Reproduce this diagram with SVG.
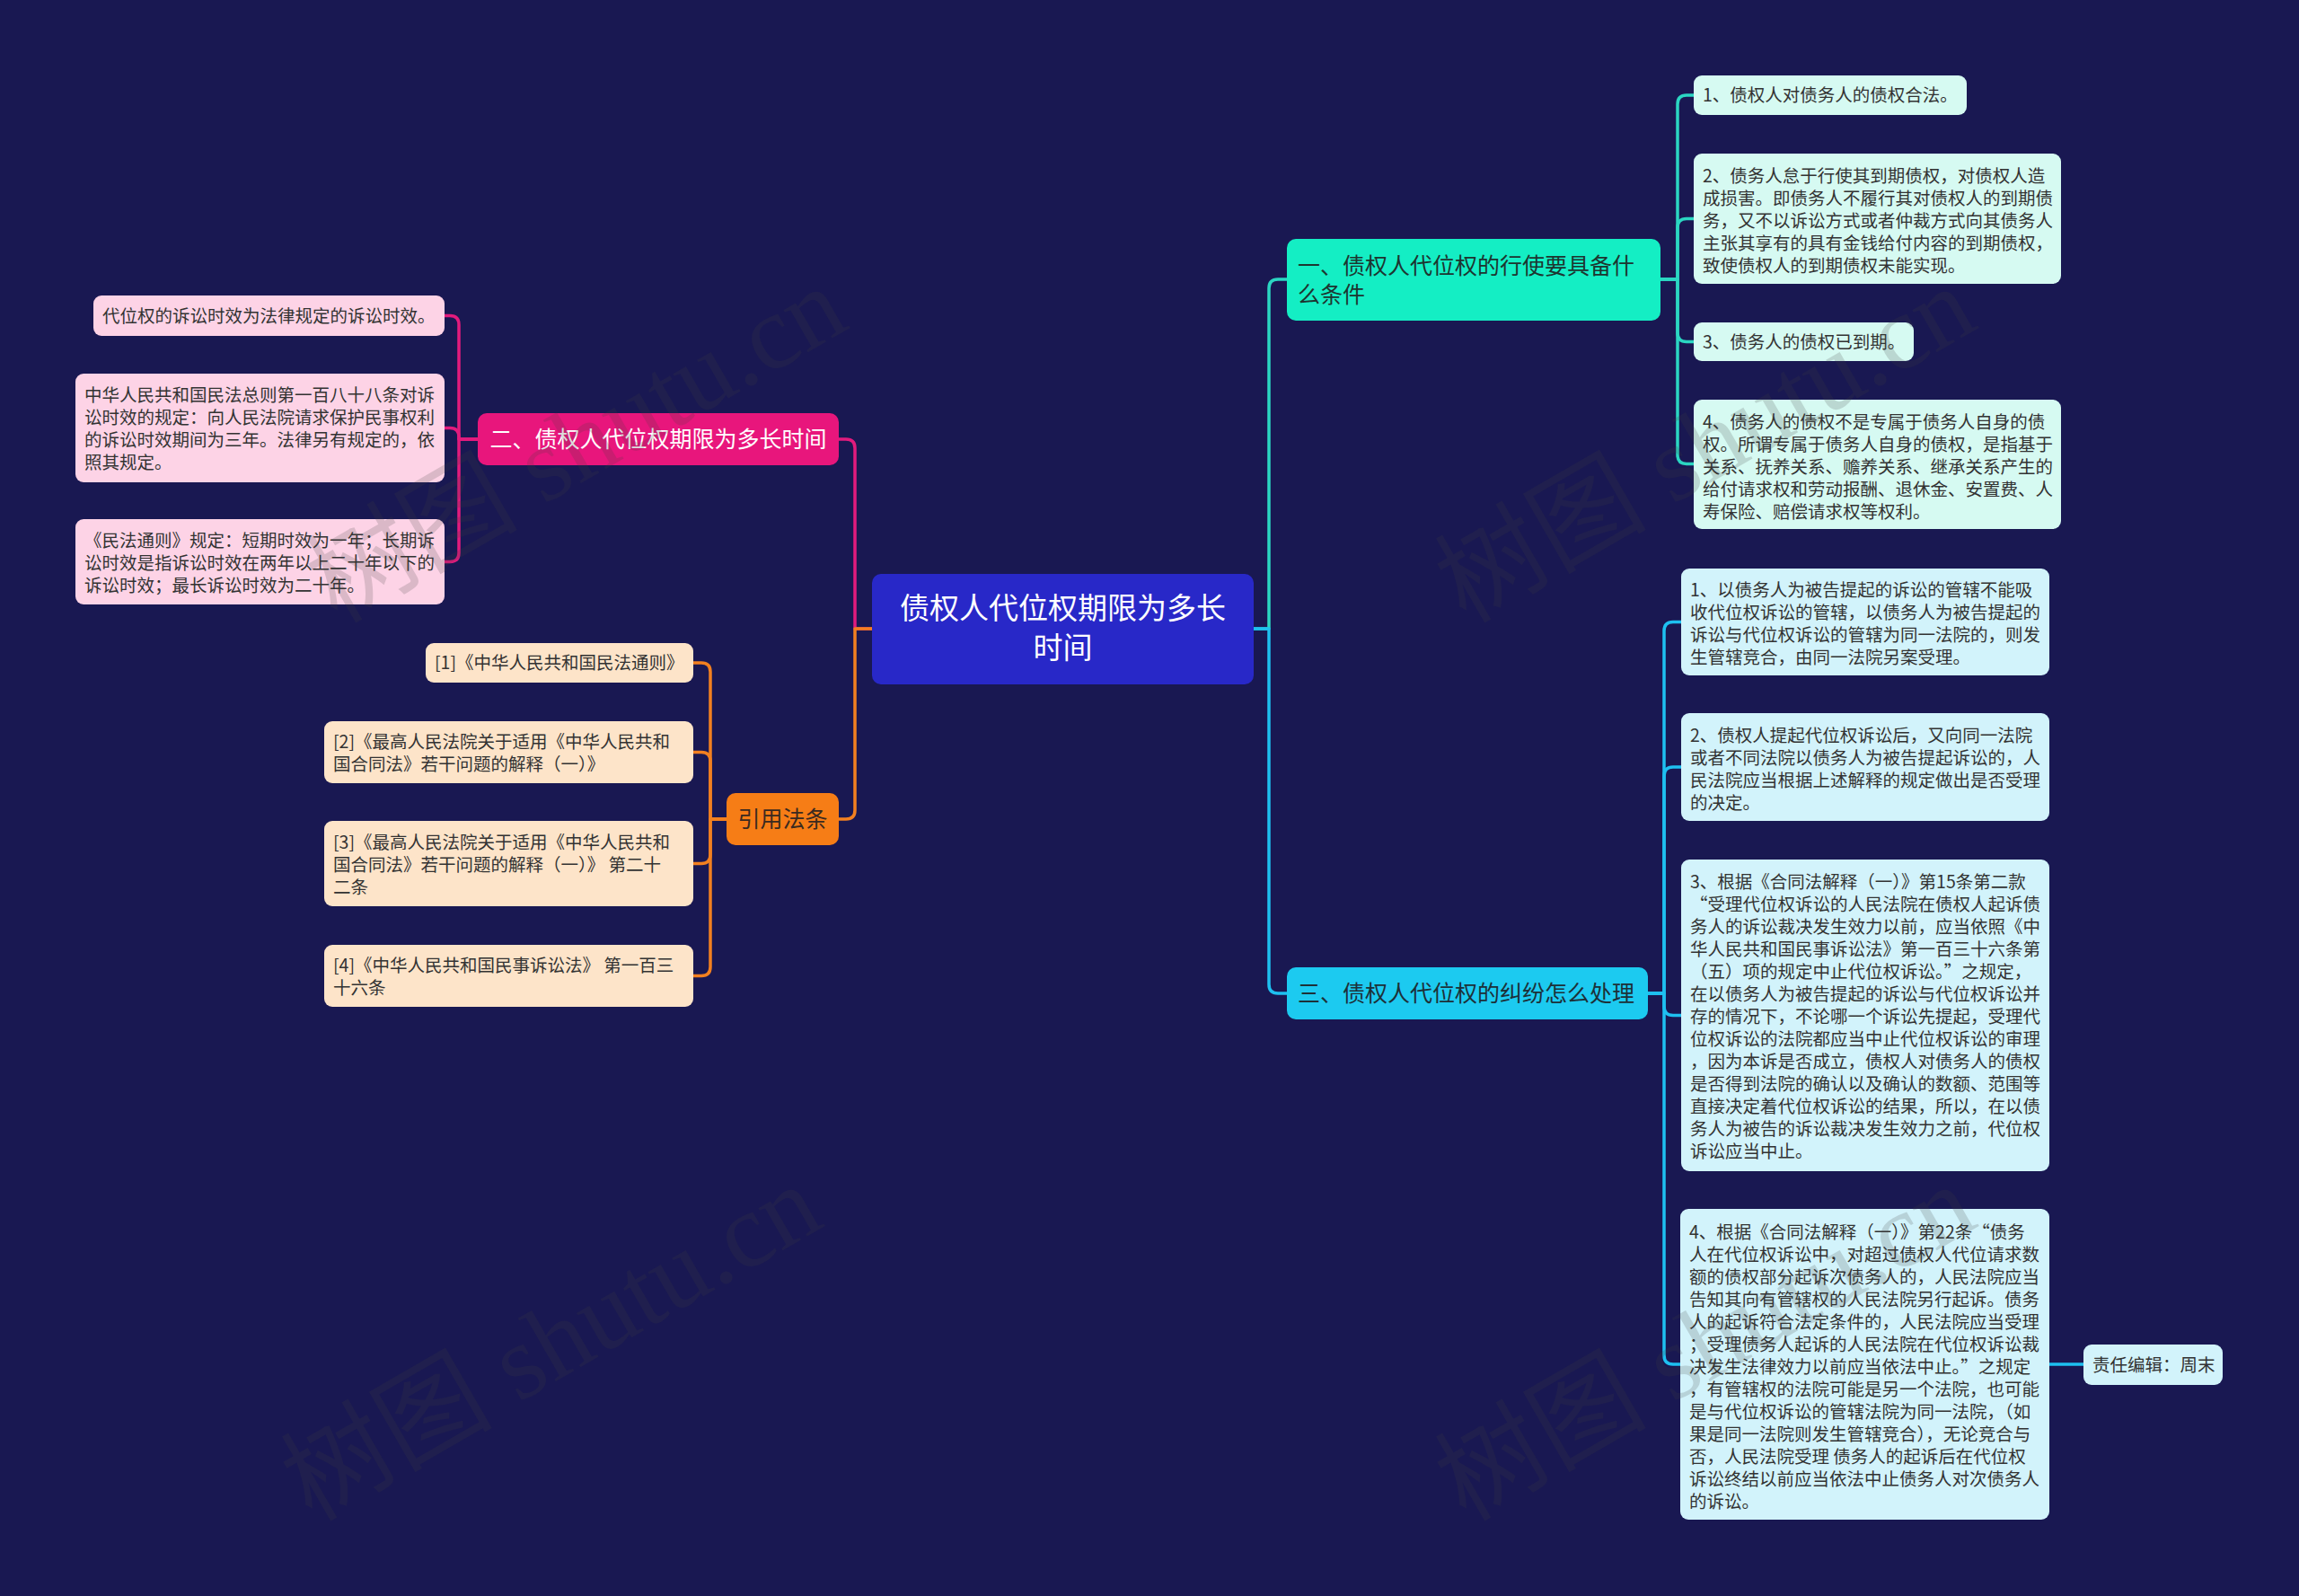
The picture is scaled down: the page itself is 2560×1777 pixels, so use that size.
<svg xmlns="http://www.w3.org/2000/svg" width="2560" height="1777" viewBox="0 0 2560 1777">
<style>
text{font-family:"Noto Sans CJK SC","Noto Sans",sans-serif;}
.leaf{font-size:19.5px;fill:#333333;dominant-baseline:central;transform:translateY(-2px);}
.main{font-size:25px;dominant-baseline:central;transform:translateY(-2px);}
.c{fill:none;stroke-width:3.5;stroke-linejoin:round;stroke-linecap:round;}
.teal{stroke:#2bd6c2;}
.cyan{stroke:#1ec0f0;}
.pink{stroke:#e21b7d;}
.orange{stroke:#f28020;}
.wm{font-family:"Liberation Serif","Noto Sans CJK SC",serif;font-size:118px;fill:#404040;opacity:0.18;}
</style>
<rect x="0" y="0" width="2560" height="1777" fill="#191852"/>
<g id="connectors">
<path class="c teal" d="M1396,700 H1413 V321 Q1413,311 1423,311 H1433"/>
<path class="c cyan" d="M1396,700 H1413 V1096 Q1413,1106 1423,1106 H1433"/>
<path class="c pink" d="M971,700 H952 V499 Q952,489 942,489 H934"/>
<path class="c orange" d="M971,700 H952 V902 Q952,912 942,912 H934"/>
<path class="c teal" d="M1849,311 H1868 V116 Q1868,106 1878,106 H1886"/>
<path class="c teal" d="M1849,311 H1868 V253.5 Q1868,243.5 1878,243.5 H1886"/>
<path class="c teal" d="M1849,311 H1868 V370.5 Q1868,380.5 1878,380.5 H1886"/>
<path class="c teal" d="M1849,311 H1868 V506.5 Q1868,516.5 1878,516.5 H1886"/>
<path class="c cyan" d="M1835,1106 H1853 V702.5 Q1853,692.5 1863,692.5 H1872"/>
<path class="c cyan" d="M1835,1106 H1853 V864 Q1853,854 1863,854 H1872"/>
<path class="c cyan" d="M1835,1106 H1853 V1120.5 Q1853,1130.5 1863,1130.5 H1872"/>
<path class="c cyan" d="M1835,1106 H1853 V1509 Q1853,1519 1863,1519 H1872"/>
<path class="c cyan" d="M2282,1519 H2320"/>
<path class="c pink" d="M532,489 H511 V361.5 Q511,351.5 501,351.5 H495"/>
<path class="c pink" d="M532,489 H511 V486.5 Q511,476.5 501,476.5 H495"/>
<path class="c pink" d="M532,489 H511 V615.5 Q511,625.5 501,625.5 H495"/>
<path class="c orange" d="M809,912 H791 V748 Q791,738 781,738 H772"/>
<path class="c orange" d="M809,912 H791 V847.5 Q791,837.5 781,837.5 H772"/>
<path class="c orange" d="M809,912 H791 V951.5 Q791,961.5 781,961.5 H772"/>
<path class="c orange" d="M809,912 H791 V1076.5 Q791,1086.5 781,1086.5 H772"/>
</g>
<g id="root">
<rect x="971" y="639" width="425" height="123" rx="10" fill="#2828c8"/>
<text class="main" style="font-size:33px" fill="#ffffff" text-anchor="middle"><tspan x="1183.5" y="677">债权人代位权期限为多长</tspan><tspan x="1183.5" y="721">时间</tspan></text>
</g>
<g id="branch1">
<rect x="1433" y="266" width="416" height="91" rx="10" fill="#14eec4"/>
<text class="main" fill="#1d3530"><tspan x="1445" y="296">一、债权人代位权的行使要具备什</tspan><tspan x="1445" y="328">么条件</tspan></text>
</g>
<g id="b1-1">
<rect x="1886" y="84" width="304" height="44" rx="9" fill="#d6faf2"/>
<text class="leaf"><tspan x="1896" y="106">1、债权人对债务人的债权合法。</tspan></text>
</g>
<g id="b1-2">
<rect x="1886" y="171" width="409" height="145" rx="9" fill="#d6faf2"/>
<text class="leaf"><tspan x="1896" y="195.5">2、债务人怠于行使其到期债权，对债权人造</tspan><tspan x="1896" y="220.5">成损害。即债务人不履行其对债权人的到期债</tspan><tspan x="1896" y="245.5">务，又不以诉讼方式或者仲裁方式向其债务人</tspan><tspan x="1896" y="270.5">主张其享有的具有金钱给付内容的到期债权，</tspan><tspan x="1896" y="295.5">致使债权人的到期债权未能实现。</tspan></text>
</g>
<g id="b1-3">
<rect x="1886" y="359" width="245" height="43" rx="9" fill="#d6faf2"/>
<text class="leaf"><tspan x="1896" y="380.5">3、债务人的债权已到期。</tspan></text>
</g>
<g id="b1-4">
<rect x="1886" y="445" width="409" height="144" rx="9" fill="#d6faf2"/>
<text class="leaf"><tspan x="1896" y="469.5">4、债务人的债权不是专属于债务人自身的债</tspan><tspan x="1896" y="494.5">权。所谓专属于债务人自身的债权，是指基于</tspan><tspan x="1896" y="519.5">关系、抚养关系、赡养关系、继承关系产生的</tspan><tspan x="1896" y="544.5">给付请求权和劳动报酬、退休金、安置费、人</tspan><tspan x="1896" y="569.5">寿保险、赔偿请求权等权利。</tspan></text>
</g>
<g id="branch3">
<rect x="1433" y="1077" width="402" height="58" rx="10" fill="#1ccaf0"/>
<text class="main" fill="#1d3038"><tspan x="1445" y="1106">三、债权人代位权的纠纷怎么处理</tspan></text>
</g>
<g id="b3-1">
<rect x="1872" y="633" width="410" height="119" rx="9" fill="#d2f3fb"/>
<text class="leaf"><tspan x="1882" y="657">1、以债务人为被告提起的诉讼的管辖不能吸</tspan><tspan x="1882" y="682">收代位权诉讼的管辖，以债务人为被告提起的</tspan><tspan x="1882" y="707">诉讼与代位权诉讼的管辖为同一法院的，则发</tspan><tspan x="1882" y="732">生管辖竞合，由同一法院另案受理。</tspan></text>
</g>
<g id="b3-2">
<rect x="1872" y="794" width="410" height="120" rx="9" fill="#d2f3fb"/>
<text class="leaf"><tspan x="1882" y="818.5">2、债权人提起代位权诉讼后，又向同一法院</tspan><tspan x="1882" y="843.5">或者不同法院以债务人为被告提起诉讼的，人</tspan><tspan x="1882" y="868.5">民法院应当根据上述解释的规定做出是否受理</tspan><tspan x="1882" y="893.5">的决定。</tspan></text>
</g>
<g id="b3-3">
<rect x="1872" y="957" width="410" height="347" rx="9" fill="#d2f3fb"/>
<text class="leaf"><tspan x="1882" y="981.5">3、根据《合同法解释（一）》第15条第二款</tspan><tspan x="1882" y="1006.5">“受理代位权诉讼的人民法院在债权人起诉债</tspan><tspan x="1882" y="1031.5">务人的诉讼裁决发生效力以前，应当依照《中</tspan><tspan x="1882" y="1056.5">华人民共和国民事诉讼法》第一百三十六条第</tspan><tspan x="1882" y="1081.5">（五）项的规定中止代位权诉讼。”之规定，</tspan><tspan x="1882" y="1106.5">在以债务人为被告提起的诉讼与代位权诉讼并</tspan><tspan x="1882" y="1131.5">存的情况下，不论哪一个诉讼先提起，受理代</tspan><tspan x="1882" y="1156.5">位权诉讼的法院都应当中止代位权诉讼的审理</tspan><tspan x="1882" y="1181.5">，因为本诉是否成立，债权人对债务人的债权</tspan><tspan x="1882" y="1206.5">是否得到法院的确认以及确认的数额、范围等</tspan><tspan x="1882" y="1231.5">直接决定着代位权诉讼的结果，所以，在以债</tspan><tspan x="1882" y="1256.5">务人为被告的诉讼裁决发生效力之前，代位权</tspan><tspan x="1882" y="1281.5">诉讼应当中止。</tspan></text>
</g>
<g id="b3-4">
<rect x="1871" y="1346" width="411" height="346" rx="9" fill="#d2f3fb"/>
<text class="leaf"><tspan x="1881" y="1371.5">4、根据《合同法解释（一）》第22条“债务</tspan><tspan x="1881" y="1396.5">人在代位权诉讼中，对超过债权人代位请求数</tspan><tspan x="1881" y="1421.5">额的债权部分起诉次债务人的，人民法院应当</tspan><tspan x="1881" y="1446.5">告知其向有管辖权的人民法院另行起诉。债务</tspan><tspan x="1881" y="1471.5">人的起诉符合法定条件的，人民法院应当受理</tspan><tspan x="1881" y="1496.5">；受理债务人起诉的人民法院在代位权诉讼裁</tspan><tspan x="1881" y="1521.5">决发生法律效力以前应当依法中止。”之规定</tspan><tspan x="1881" y="1546.5">，有管辖权的法院可能是另一个法院，也可能</tspan><tspan x="1881" y="1571.5">是与代位权诉讼的管辖法院为同一法院，（如</tspan><tspan x="1881" y="1596.5">果是同一法院则发生管辖竞合），无论竞合与</tspan><tspan x="1881" y="1621.5">否，人民法院受理 债务人的起诉后在代位权</tspan><tspan x="1881" y="1646.5">诉讼终结以前应当依法中止债务人对次债务人</tspan><tspan x="1881" y="1671.5">的诉讼。</tspan></text>
</g>
<g id="editor">
<rect x="2320" y="1497" width="155" height="45" rx="9" fill="#d2f3fb"/>
<text class="leaf"><tspan x="2330" y="1519.5">责任编辑：周末</tspan></text>
</g>
<g id="branch2">
<rect x="532" y="460" width="402" height="58" rx="10" fill="#e8167c"/>
<text class="main" fill="#ffffff" text-anchor="middle"><tspan x="733" y="489">二、债权人代位权期限为多长时间</tspan></text>
</g>
<g id="b2-1">
<rect x="104" y="329" width="391" height="45" rx="9" fill="#fdd3e6"/>
<text class="leaf"><tspan x="114" y="351.5">代位权的诉讼时效为法律规定的诉讼时效。</tspan></text>
</g>
<g id="b2-2">
<rect x="84" y="416" width="411" height="121" rx="9" fill="#fdd3e6"/>
<text class="leaf"><tspan x="94" y="440">中华人民共和国民法总则第一百八十八条对诉</tspan><tspan x="94" y="465">讼时效的规定：向人民法院请求保护民事权利</tspan><tspan x="94" y="490">的诉讼时效期间为三年。法律另有规定的，依</tspan><tspan x="94" y="515">照其规定。</tspan></text>
</g>
<g id="b2-3">
<rect x="84" y="578" width="411" height="95" rx="9" fill="#fdd3e6"/>
<text class="leaf"><tspan x="94" y="602">《民法通则》规定：短期时效为一年；长期诉</tspan><tspan x="94" y="627">讼时效是指诉讼时效在两年以上二十年以下的</tspan><tspan x="94" y="652">诉讼时效；最长诉讼时效为二十年。</tspan></text>
</g>
<g id="branch4">
<rect x="809" y="883" width="125" height="58" rx="10" fill="#f67d16"/>
<text class="main" fill="#3a2a20" text-anchor="middle"><tspan x="871.5" y="912">引用法条</tspan></text>
</g>
<g id="b4-1">
<rect x="474" y="716" width="298" height="44" rx="9" fill="#fde4c9"/>
<text class="leaf"><tspan x="484" y="738">[1]《中华人民共和国民法通则》</tspan></text>
</g>
<g id="b4-2">
<rect x="361" y="803" width="411" height="69" rx="9" fill="#fde4c9"/>
<text class="leaf"><tspan x="371" y="826">[2]《最高人民法院关于适用《中华人民共和</tspan><tspan x="371" y="851">国合同法》若干问题的解释（一）》</tspan></text>
</g>
<g id="b4-3">
<rect x="361" y="914" width="411" height="95" rx="9" fill="#fde4c9"/>
<text class="leaf"><tspan x="371" y="938">[3]《最高人民法院关于适用《中华人民共和</tspan><tspan x="371" y="963">国合同法》若干问题的解释（一）》 第二十</tspan><tspan x="371" y="988">二条</tspan></text>
</g>
<g id="b4-4">
<rect x="361" y="1052" width="411" height="69" rx="9" fill="#fde4c9"/>
<text class="leaf"><tspan x="371" y="1075">[4]《中华人民共和国民事诉讼法》 第一百三</tspan><tspan x="371" y="1100">十六条</tspan></text>
</g>
<g id="watermarks">
<text class="wm" transform="translate(375,695) rotate(-30)">树图 shutu.cn</text>
<text class="wm" transform="translate(347,1695) rotate(-30)">树图 shutu.cn</text>
<text class="wm" transform="translate(1632,695) rotate(-30)">树图 shutu.cn</text>
<text class="wm" transform="translate(1632,1695) rotate(-30)">树图 shutu.cn</text>
</g>
</svg>
